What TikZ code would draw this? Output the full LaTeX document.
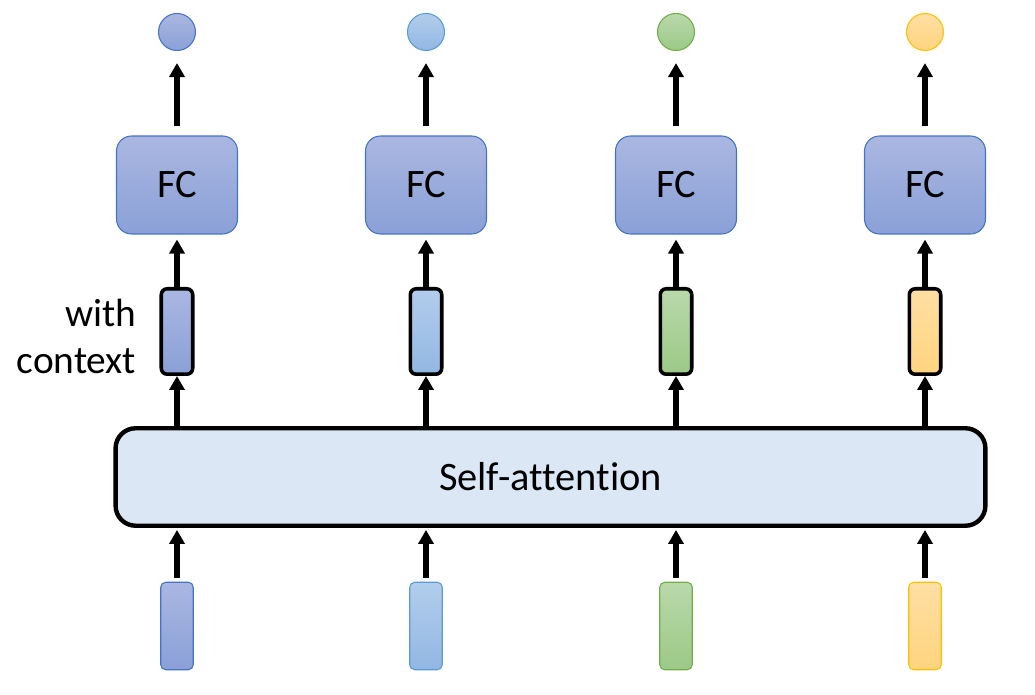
\documentclass[tikz,border=0pt]{standalone}
\usepackage{fontspec}
\setmainfont{Carlito}[Ligatures=NoCommon]
\usetikzlibrary{arrows.meta,positioning}

\definecolor{bluT}{HTML}{AAB7E1}
\definecolor{bluB}{HTML}{8AA0D7}
\definecolor{bluL}{HTML}{4472C4}
\definecolor{lblT}{HTML}{B2CDEC}
\definecolor{lblB}{HTML}{92B7E3}
\definecolor{lblL}{HTML}{5B9BD5}
\definecolor{grnT}{HTML}{B9D9AB}
\definecolor{grnB}{HTML}{9CC987}
\definecolor{grnL}{HTML}{70AD47}
\definecolor{ylwT}{HTML}{FFDFA4}
\definecolor{ylwB}{HTML}{FFD47E}
\definecolor{ylwL}{HTML}{FFC000}
\definecolor{saFill}{HTML}{DCE7F6}

\tikzset{
	arr/.style={->,line width=3.2pt},
	fcbox/.style={draw=bluL,line width=0.6pt,rounded corners=0.3cm,top color=bluT,bottom color=bluB,
		minimum width=2.42cm,minimum height=1.96cm,font=\fontsize{23}{28}\selectfont},
	sabox/.style={draw=black,line width=2.5pt,rounded corners=0.4cm,fill=saFill,
		minimum width=17.4cm,minimum height=1.95cm,font=\fontsize{23}{28}\selectfont},
	ctxvec/.style={draw=black,line width=2pt,rounded corners=0.12cm,inner sep=0pt,
		minimum width=0.63cm,minimum height=1.71cm},
	invec/.style={line width=0.6pt,rounded corners=0.1cm,inner sep=0pt,
		minimum width=0.65cm,minimum height=1.75cm},
	outdot/.style={circle,line width=0.6pt,inner sep=0pt,minimum size=0.74cm}
}

\begin{document}
\begin{tikzpicture}[x=0.02cm,y=-0.02cm,>={Triangle[length=0.28cm,width=0.3cm]}]
		\useasboundingbox (0,0) rectangle (1035,695);
		\node[sabox] (sa) at (550.5,477) {Self-attention};
		\foreach \n/\x/\t/\b/\l in {1/177/bluT/bluB/bluL,2/426/lblT/lblB/lblL,3/676/grnT/grnB/grnL,4/925/ylwT/ylwB/ylwL}{
			\node[invec,top color=\t,bottom color=\b,draw=\l] (in\n) at (\x,626) {};
			\node[ctxvec,top color=\t,bottom color=\b] (ctx\n) at (\x,331.5) {};
			\node[fcbox] (fc\n) at (\x,185) {FC};
			\node[outdot,top color=\t,bottom color=\b,draw=\l] (out\n) at (\x,32) {};
			\draw[arr,shorten <=0.08cm,shorten >=0.04cm] (in\n) -- (in\n |- sa.south);
			\draw[arr] (ctx\n |- sa.north) -- (ctx\n);
			\draw[arr,shorten >=0.1cm] (ctx\n) -- (fc\n);
			\draw[arr,shorten <=0.18cm,shorten >=0.24cm] (fc\n) -- (out\n);
		}
		\node[left=0.46cm of ctx1,anchor=east,align=right,inner sep=0pt,yshift=-0.1cm,
			font=\fontsize{22.4}{26.6}\selectfont] (ctxlbl) {with\\context};
\end{tikzpicture}
\end{document}
